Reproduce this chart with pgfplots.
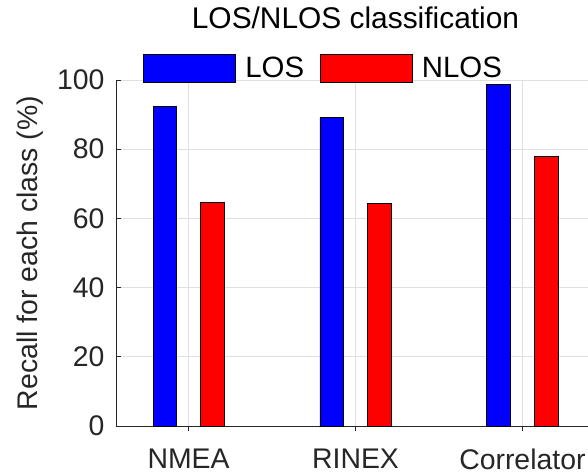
\documentclass[border=0pt]{standalone}
\usepackage{pgfplots}
\pgfplotsset{compat=1.18}
\usepackage{fontspec}
\setmainfont{Liberation Sans}
\definecolor{axgray}{RGB}{38,38,38}
\definecolor{gridgray}{RGB}{223,223,223}
\begin{document}
\begin{tikzpicture}
\begin{axis}[
  name=ax,
  scale only axis,
  width=479bp, height=346bp,
  ymin=0, ymax=100,
  xmin=-0.435, xmax=2.435,
  ytick={0,20,40,60,80,100},
  xtick={0,1,2},
  xticklabels={NMEA,RINEX,Correlator},
  axis lines=left,
  axis line style={-, draw=axgray, line width=0.8bp},
  tick style={draw=axgray, line width=0.8bp},
  tick align=inside,
  major tick length=5bp,
  xmajorgrids, ymajorgrids,
  grid style={draw=gridgray, line width=0.8bp},
  /pgf/number format/assume math mode=true,
  ticklabel style={font=\fontsize{28.5}{33}\selectfont, text=axgray},
  xticklabel style={yshift=-14bp},
  yticklabel style={xshift=-8bp},
  ylabel={Recall for each class (\%)},
  ylabel style={font=\fontsize{28.5}{33}\selectfont, text=axgray, at={(axis description cs:0,0.5)}, yshift=86bp, anchor=center},
  title={LOS/NLOS classification},
  title style={font=\fontsize{30}{35}\selectfont, at={(axis description cs:0.5,1)}, anchor=base, yshift=46bp},
  legend style={draw=none, fill=none, inner sep=0pt, outer sep=0pt,
    font=\fontsize{29.5}{34}\selectfont,
    at={(axis description cs:0,1)}, anchor=west, xshift=27bp, yshift=12bp,
    nodes={inner sep=3.5bp},
    /tikz/every even column/.append style={column sep=12bp}},
  legend columns=2,
  legend cell align=left,
  ybar, bar width=23.5bp,
]
\addplot[fill=blue, draw=black, line width=0.8bp, bar shift=-23.8bp,
  legend image code/.code={\draw[fill=blue, draw=black, line width=0.8bp] (0bp,-14bp) rectangle (92bp,14bp); \path (98bp,0bp);}]
  coordinates {(0,92.4) (1,89.2) (2,98.7)};
\addlegendentry{LOS}
\addplot[fill=red, draw=black, line width=0.8bp, bar shift=23.8bp,
  legend image code/.code={\draw[fill=red, draw=black, line width=0.8bp] (0bp,-14bp) rectangle (92bp,14bp); \path (98bp,0bp);}]
  coordinates {(0,64.5) (1,64.3) (2,78.0)};
\addlegendentry{NLOS}
\end{axis}
\pgfresetboundingbox
\useasboundingbox ([xshift=-116bp,yshift=-47bp]ax.south west) rectangle ([xshift=472bp,yshift=426bp]ax.south west);
\end{tikzpicture}
\end{document}
